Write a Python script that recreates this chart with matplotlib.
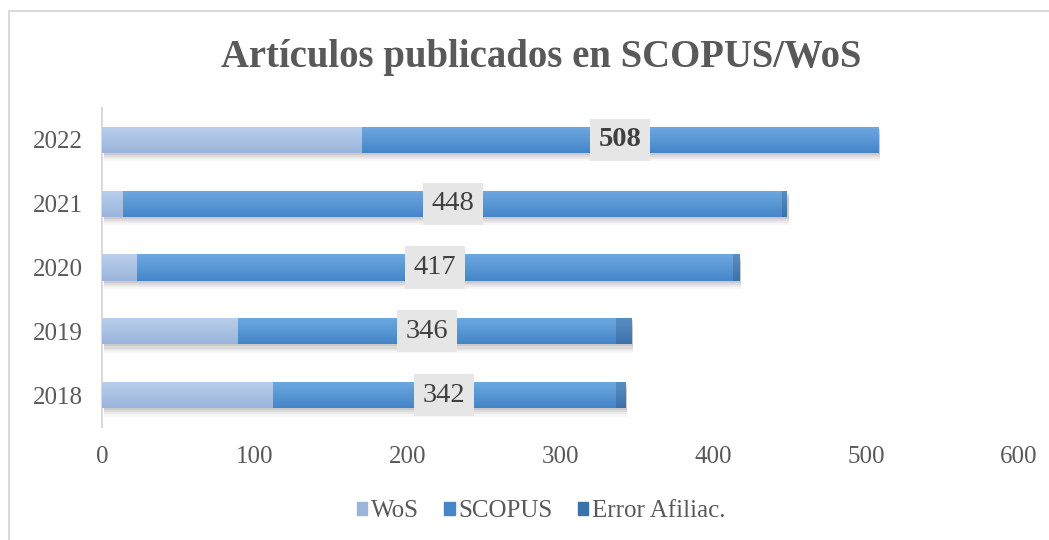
import numpy as np
import matplotlib
matplotlib.use("Agg")
import matplotlib.pyplot as plt
import matplotlib.patheffects as pe
from matplotlib.lines import Line2D

plt.rcParams.update({
    "font.family": "serif",
    "font.serif": ["Liberation Serif", "DejaVu Serif"],
})

#------------------------------data------------------------------
years = ["2018", "2019", "2020", "2021", "2022"]
wos = [112, 89, 23, 14, 170]
scopus = [224, 247, 390, 431, 338]
error_afil = [6, 10, 4, 3, 0]
totals = [342, 346, 417, 448, 508]
series_names = ["WoS", "SCOPUS", "Error Afiliac."]
#-----------------------------------------------------------------

grey_txt = "#595959"
# (top, bottom) colours of the gradient of each series
grad_cols = [("#b9cfec", "#9bb4da"), ("#6ea8e0", "#4586c8"), ("#5b8fc4", "#3b72a9")]

fig = plt.figure(figsize=(10.49, 5.40), dpi=100)
ax = fig.add_axes([102 / 1049, 1 - 427 / 540, (1019 - 102) / 1049, (427 - 108) / 540])

y = np.arange(len(years))
left = np.zeros(len(years))
bar_h = 0.41
# soft shadow built from a few stacked offset copies
shadow = [pe.SimplePatchShadow(offset=(1.5, -o), shadow_rgbFace="#808080", alpha=a)
          for o, a in [(6, 0.06), (4.5, 0.1), (3, 0.14), (1.5, 0.18)]] + [pe.Normal()]

for vals, name, (ctop, cbot) in zip([wos, scopus, error_afil], series_names, grad_cols):
    bars = ax.barh(y, vals, left=left, height=bar_h, color=cbot, label=name,
                   edgecolor="none", zorder=2)
    cmap = matplotlib.colors.LinearSegmentedColormap.from_list("g", [ctop, cbot])
    for p in bars:
        p.set_path_effects(shadow)
        if p.get_width() <= 0:
            continue
        # vertical gradient clipped to the bar
        x0, y0 = p.get_x(), p.get_y()
        grad = np.linspace(0, 1, 64).reshape(-1, 1)
        im = ax.imshow(grad, cmap=cmap, aspect="auto", origin="upper",
                       extent=[x0, x0 + p.get_width(), y0, y0 + p.get_height()], zorder=3)
        im.set_clip_path(p)
    left = left + np.array(vals)

# total label centred on the SCOPUS segment
for i, tot in enumerate(totals):
    xc = wos[i] + scopus[i] / 2
    ax.text(xc, y[i], str(tot), ha="center", va="center", fontsize=20.5,
            color="#404040", fontweight="bold" if years[i] == "2022" else "normal",
            bbox=dict(boxstyle="square,pad=0.3", fc="#e7e6e6", ec="none"), zorder=5)

ax.set_xlim(0, 600)
ax.set_ylim(-0.5, len(years) - 0.5)
ax.set_xticks(range(0, 601, 100))
ax.set_yticks(y)
ax.set_yticklabels(years)
ax.tick_params(axis="both", length=0, labelsize=18, colors=grey_txt)
ax.tick_params(axis="x", pad=14)
ax.tick_params(axis="y", pad=14)
for s in ["top", "right", "bottom"]:
    ax.spines[s].set_visible(False)
ax.spines["left"].set_color("#d9d9d9")
ax.spines["left"].set_linewidth(1.5)
ax.set_facecolor("none")

fig.suptitle("Artículos publicados en SCOPUS/WoS", x=541 / 1049, y=1 - 57 / 540,
             va="center", fontsize=27.9, fontweight="bold", color=grey_txt)

handles = [matplotlib.patches.Patch(color=c[1]) for c in grad_cols]
fig.legend(handles, series_names, loc="center", bbox_to_anchor=(541 / 1049, 1 - 511 / 540),
           ncol=3, frameon=False, fontsize=18, labelcolor=grey_txt, handlelength=0.42,
           handleheight=0.42, handletextpad=0.15, columnspacing=1.0)

# chart frame (top and left edges visible)
fig.add_artist(Line2D([9 / 1049, 9 / 1049, 1.0], [0.0, 1 - 11 / 540, 1 - 11 / 540],
                      transform=fig.transFigure, color="#d9d9d9", lw=1.5))

fig.savefig("out.png", dpi=100, facecolor="white")
